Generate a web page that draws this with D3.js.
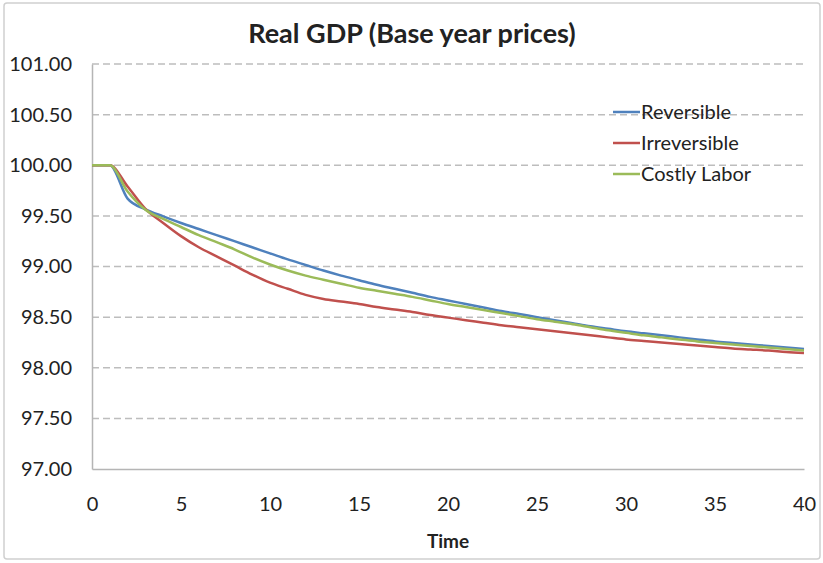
<!DOCTYPE html>
<html>
<head>
<meta charset="utf-8">
<script src="https://cdn.jsdelivr.net/npm/d3@7"></script>
<style>
  body { margin: 0; background: #fff; }
  svg { display: block; }
  text { font-family: Lato, "Open Sans", sans-serif; fill: #222; }
</style>
</head>
<body>
<svg id="chart"></svg>
<script>
// time steps 0..40
const time = d3.range(0, 41)

const reversible = [100.00, 100.00, 99.67, 99.565, 99.495, 99.43, 99.37, 99.31, 99.25, 99.19,
  99.13, 99.07, 99.015, 98.96, 98.91, 98.865, 98.82, 98.78, 98.74, 98.70,
  98.665, 98.63, 98.595, 98.56, 98.53, 98.50, 98.47, 98.44, 98.41, 98.385,
  98.36, 98.34, 98.32, 98.30, 98.28, 98.26, 98.245, 98.23, 98.215, 98.20, 98.185]

const irreversible = [100.00, 100.00, 99.79, 99.57, 99.43, 99.30, 99.19, 99.10, 99.01, 98.92,
  98.84, 98.78, 98.72, 98.68, 98.655, 98.63, 98.60, 98.575, 98.55, 98.52,
  98.495, 98.47, 98.445, 98.42, 98.40, 98.38, 98.36, 98.34, 98.32, 98.30,
  98.28, 98.265, 98.25, 98.235, 98.22, 98.205, 98.19, 98.18, 98.17, 98.155, 98.145]

const costlyLabor = [100.00, 100.00, 99.74, 99.56, 99.47, 99.39, 99.31, 99.24, 99.17, 99.09,
  99.02, 98.96, 98.91, 98.87, 98.83, 98.79, 98.76, 98.73, 98.70, 98.665,
  98.63, 98.60, 98.57, 98.54, 98.51, 98.48, 98.455, 98.43, 98.40, 98.37,
  98.345, 98.32, 98.30, 98.28, 98.26, 98.245, 98.23, 98.215, 98.20, 98.185, 98.17]

const seriesNames = ["Reversible", "Irreversible", "Costly Labor"]
const seriesColors = ["#4F81BD", "#C0504D", "#9BBB59"]
const yTicks = [97, 97.5, 98, 98.5, 99, 99.5, 100, 100.5, 101]
const xTicks = [0, 5, 10, 15, 20, 25, 30, 35, 40]

const width = 823
const height = 563
const margin = {left: 92, right: 19, top: 64, bottom: 94}

const svg = d3.select("#chart")
    .attr("width", width)
    .attr("height", height)

// outer chart border
svg.append("rect")
    .attr("x", 4).attr("y", 3)
    .attr("width", 816).attr("height", 556)
    .attr("rx", 3)
    .attr("fill", "#fff")
    .attr("stroke", "#d0d0d0")
    .attr("stroke-width", 1.5)

const x = d3.scaleLinear().domain([0, 40]).range([margin.left, width - margin.right])
const y = d3.scaleLinear().domain([97, 101]).range([height - margin.bottom, margin.top])

// dashed gridlines
svg.append("g")
    .selectAll("line")
    .data(yTicks.filter(d => d > 97))
    .enter()
    .append("line")
    .attr("x1", x(0))
    .attr("x2", x(40))
    .attr("y1", d => y(d))
    .attr("y2", d => y(d))
    .attr("stroke", "#bdbdbd")
    .attr("stroke-width", 1.5)
    .attr("stroke-dasharray", "7,4")

// axes
const yAxis = svg.append("g")
    .attr("transform", `translate(${x(0)},0)`)
    .call(d3.axisLeft(y).tickValues(yTicks).tickFormat(d3.format(".2f")).tickSize(0).tickPadding(20))
const xAxis = svg.append("g")
    .attr("transform", `translate(0,${y(97)})`)
    .call(d3.axisBottom(x).tickValues(xTicks).tickSize(0).tickPadding(28))

for (const ax of [yAxis, xAxis]) {
    ax.select(".domain").attr("stroke", "#b5b5b5").attr("stroke-width", 1.5)
    ax.selectAll("text")
        .style("font-family", "Lato, 'Open Sans', sans-serif")
        .style("font-size", "20px")
        .attr("fill", "#222")
}

const line = d3.line()
    .x((d, i) => x(time[i]))
    .y(d => y(d))
    .curve(d3.curveMonotoneX)

const allSeries = [reversible, irreversible, costlyLabor]

svg.append("g")
    .selectAll("path")
    .data(allSeries)
    .enter()
    .append("path")
    .attr("d", d => line(d))
    .attr("fill", "none")
    .attr("stroke", (d, i) => seriesColors[i])
    .attr("stroke-width", 2.5)

// title
svg.append("text")
    .attr("x", 412)
    .attr("y", 43)
    .attr("text-anchor", "middle")
    .style("font-size", "27px")
    .style("font-weight", "bold")
    .text("Real GDP (Base year prices)")

// x axis title
svg.append("text")
    .attr("x", 448)
    .attr("y", 548)
    .attr("text-anchor", "middle")
    .style("font-size", "19px")
    .style("font-weight", "bold")
    .text("Time")

// legend
const legend = svg.append("g")
    .selectAll("g")
    .data(seriesNames)
    .enter()
    .append("g")
    .attr("transform", (d, i) => `translate(613,${112 + i * 31})`)

legend.append("line")
    .attr("x1", 0).attr("x2", 27)
    .attr("stroke", (d, i) => seriesColors[i])
    .attr("stroke-width", 2.5)

legend.append("text")
    .attr("x", 28)
    .attr("dy", "0.35em")
    .style("font-size", "20px")
    .text(d => d)
</script>
</body>
</html>
